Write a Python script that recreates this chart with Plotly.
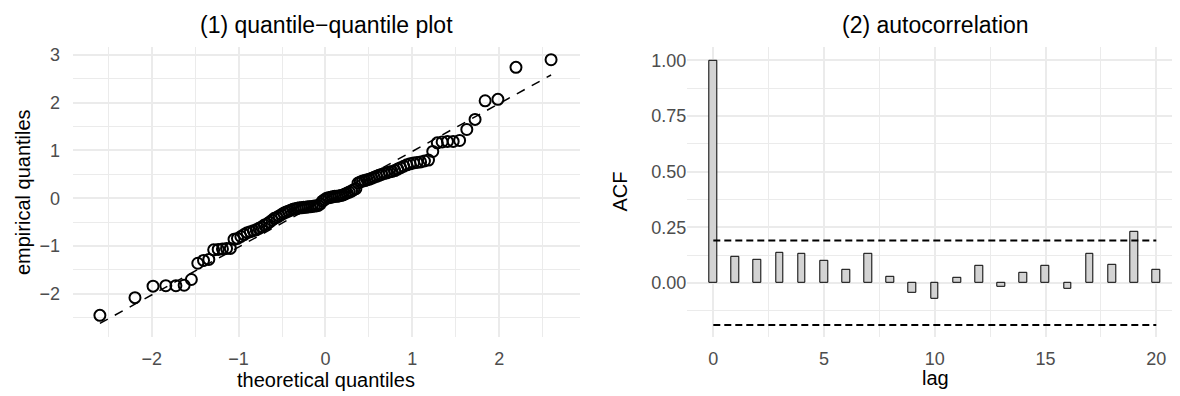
import plotly.graph_objects as go

# ---------------- data ----------------
# (1) QQ plot: theoretical normal quantiles (n = 106) and sorted sample values
theoretical_q = [
    -2.597, -2.193, -1.985, -1.838, -1.722, -1.627, -1.544, -1.470, -1.404, -1.343,
    -1.287, -1.235, -1.186, -1.139, -1.095, -1.053, -1.013, -0.974, -0.937, -0.901,
    -0.865, -0.831, -0.798, -0.766, -0.735, -0.704, -0.674, -0.645, -0.616, -0.588,
    -0.560, -0.533, -0.506, -0.479, -0.453, -0.427, -0.401, -0.375, -0.350, -0.325,
    -0.300, -0.275, -0.251, -0.226, -0.202, -0.178, -0.154, -0.130, -0.107, -0.083,
    -0.059, -0.035, -0.012,
    0.012, 0.035, 0.059, 0.083, 0.107, 0.130, 0.154, 0.178, 0.202, 0.226,
    0.251, 0.275, 0.300, 0.325, 0.350, 0.375, 0.401, 0.427, 0.453, 0.479,
    0.506, 0.533, 0.560, 0.588, 0.616, 0.645, 0.674, 0.704, 0.735, 0.766,
    0.798, 0.831, 0.865, 0.901, 0.937, 0.974, 1.013, 1.053, 1.095, 1.139,
    1.186, 1.235, 1.287, 1.343, 1.404, 1.470, 1.544, 1.627, 1.722, 1.838,
    1.985, 2.193, 2.597,
]
empirical_q = [
    -2.45, -2.08, -1.84, -1.83, -1.83, -1.82, -1.70, -1.36, -1.30, -1.28,
    -1.08, -1.07, -1.06, -1.05, -1.05, -0.86, -0.84, -0.80, -0.76, -0.72,
    -0.70, -0.68, -0.66, -0.63, -0.60, -0.56, -0.54, -0.50, -0.46, -0.42,
    -0.40, -0.37, -0.34, -0.31, -0.29, -0.27, -0.25, -0.23, -0.22, -0.21,
    -0.20, -0.20, -0.19, -0.19, -0.18, -0.18, -0.17, -0.16, -0.16, -0.15,
    -0.12, -0.06, -0.03,
    0.00, 0.01, 0.02, 0.03, 0.04, 0.04, 0.05, 0.06, 0.07, 0.09,
    0.11, 0.13, 0.15, 0.18, 0.20, 0.32, 0.34, 0.36, 0.37, 0.39,
    0.40, 0.42, 0.44, 0.46, 0.48, 0.50, 0.52, 0.53, 0.55, 0.56,
    0.58, 0.61, 0.64, 0.67, 0.70, 0.72, 0.74, 0.75, 0.76, 0.78,
    0.80, 0.98, 1.16, 1.18, 1.19, 1.19, 1.21, 1.44, 1.65, 2.04,
    2.07, 2.74, 2.90,
]
qq_line_x = [-2.597, 2.597]
qq_line_y = [-2.62, 2.58]

# (2) autocorrelation
lags = list(range(0, 21))
acf_values = [1.000, 0.119, 0.103, 0.136, 0.131, 0.101, 0.058, 0.130, 0.027, -0.043,
              -0.072, 0.024, 0.075, -0.019, 0.043, 0.077, -0.025, 0.131, 0.082, 0.231,
              0.058]
conf_bound = 0.19
conf_lags = [0, 20]

# tick labels
qq_ticks = [-2, -1, 0, 1, 2]
qq_yticks = [-2, -1, 0, 1, 2, 3]
acf_xticks = [0, 5, 10, 15, 20]
acf_yticks = [0.0, 0.25, 0.5, 0.75, 1.0]

# ---------------- figure ----------------
PAGE_W, PAGE_H = 1180, 396
OFF = 8                      # page body margin in the browser
W, H = PAGE_W - OFF, PAGE_H - OFF
FONT = "Liberation Sans, Arial, Helvetica, sans-serif"
GRID = "#EBEBEB"
TICKC = "#4D4D4D"

fig = go.Figure()

fig.add_trace(go.Scatter(
    x=qq_line_x, y=qq_line_y, mode="lines",
    line=dict(color="black", width=1.5, dash="9px,8px"),
    xaxis="x", yaxis="y", showlegend=False, hoverinfo="skip"))
fig.add_trace(go.Scatter(
    x=theoretical_q, y=empirical_q, mode="markers",
    marker=dict(symbol="circle-open", size=11, color="black", line=dict(width=2, color="black")),
    xaxis="x", yaxis="y", showlegend=False))

fig.add_trace(go.Bar(
    x=lags, y=acf_values, width=0.35,
    marker=dict(color="#D3D3D3", line=dict(color="black", width=1)),
    xaxis="x2", yaxis="y2", showlegend=False))
for sgn in (1, -1):
    fig.add_trace(go.Scatter(
        x=conf_lags, y=[sgn * conf_bound] * 2, mode="lines",
        line=dict(color="black", width=2, dash="7px,4px"),
        xaxis="x2", yaxis="y2", showlegend=False, hoverinfo="skip"))


def px_x(p):
    return (p - OFF) / W


def px_y(p):
    return 1 - (p - OFF) / H


ydom = [px_y(337), px_y(45)]
common = dict(showline=False, zeroline=False, gridcolor=GRID,
              tickfont=dict(family=FONT, size=18, color=TICKC))

fig.update_layout(
    width=W, height=H,
    margin=dict(l=0, r=0, t=0, b=0),
    paper_bgcolor="white", plot_bgcolor="white",
    font=dict(family=FONT),
    bargap=0,
    xaxis=dict(domain=[px_x(72.7), px_x(580)], range=[-2.91, 2.93],
               tickvals=qq_ticks, gridwidth=1.8,
               ticks="outside", ticklen=5, tickcolor="rgba(0,0,0,0)",
               minor=dict(dtick=0.5, tick0=0, showgrid=True, gridcolor=GRID, gridwidth=1),
               anchor="y", **common),
    yaxis=dict(domain=ydom, range=[-2.91, 3.17],
               tickvals=qq_yticks, gridwidth=1.5,
               ticks="outside", ticklen=8, tickcolor="rgba(0,0,0,0)",
               minor=dict(dtick=0.5, tick0=0, showgrid=True, gridcolor=GRID, gridwidth=0.8),
               anchor="x", **common),
    xaxis2=dict(domain=[px_x(687.3), 1.0], range=[-1.174, 21.07],
                tickvals=acf_xticks, gridwidth=1.8,
                ticks="outside", ticklen=5, tickcolor="rgba(0,0,0,0)",
                minor=dict(dtick=2.5, tick0=0, showgrid=True, gridcolor=GRID, gridwidth=1),
                anchor="y2", **common),
    yaxis2=dict(domain=ydom, range=[-0.245, 1.061],
                tickvals=acf_yticks, tickformat=".2f", gridwidth=1.5,
                minor=dict(dtick=0.125, tick0=0, showgrid=True, gridcolor=GRID, gridwidth=0.8),
                anchor="x2", **common),
)

ann = [
    dict(text="(1) quantile\u2212quantile plot", x=px_x(326.4), y=px_y(23), size=23),
    dict(text="(2) autocorrelation", x=px_x(935), y=px_y(23), size=23),
    dict(text="theoretical quantiles", x=px_x(326.4), y=px_y(380), size=20),
    dict(text="lag", x=px_x(935), y=px_y(378), size=20),
    dict(text="empirical quantiles", x=px_x(23), y=px_y(191), size=20, angle=-90),
    dict(text="ACF", x=px_x(620.5), y=px_y(191), size=20, angle=-90),
]
for a in ann:
    fig.add_annotation(text=a["text"], x=a["x"], y=a["y"], xref="paper", yref="paper",
                       xanchor="center", yanchor="middle", showarrow=False,
                       textangle=a.get("angle", 0),
                       font=dict(family=FONT, size=a["size"], color="black"))

fig.write_html("out.html")
